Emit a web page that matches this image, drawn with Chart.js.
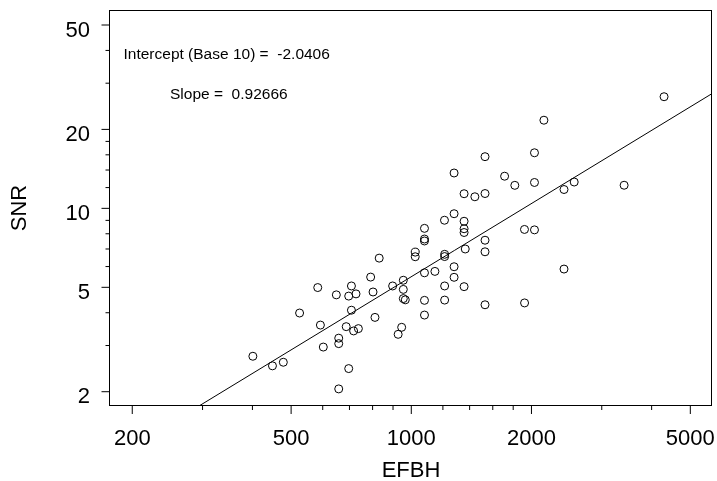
<!DOCTYPE html>
<html lang="en">
<head>
    <meta charset="UTF-8">
    <title>SNR vs EFBH</title>
    <style>
        body {
            margin: 0;
            background: white;
        }
        #chart {
            display: block;
        }
    </style>
</head>
<body>
    <canvas id="chart" width="717" height="481"></canvas>

    <script src="https://cdn.jsdelivr.net/npm/chart.js"></script>
    <script>
        // measurements
        const efbh = [
            401, 449, 478, 525, 583, 592, 602, 649, 658, 658,
            658, 687, 697, 697, 708, 708, 717, 727, 737, 791,
            802, 811, 831, 898, 927, 946, 955, 955, 955, 966,
            1023, 1023, 1079, 1079, 1079, 1079, 1079, 1079, 1146, 1211,
            1212, 1212, 1212, 1212, 1280, 1280, 1280, 1280, 1356, 1356,
            1356, 1356, 1356, 1365, 1443, 1530, 1530, 1530, 1530, 1530,
            1713, 1817, 1921, 1922, 2035, 2035, 2035, 2149, 2413, 2413,
            2559, 3413, 4297
        ];
        const snr = [
            2.73, 2.51, 2.59, 3.99, 4.99, 3.59, 2.96, 4.68, 3.20, 3.05,
            2.05, 3.54, 4.63, 2.45, 5.06, 4.09, 3.41, 4.72, 3.48, 5.47,
            4.80, 3.84, 6.46, 5.06, 3.31, 3.52, 5.32, 4.91, 4.53, 4.48,
            6.81, 6.54, 8.39, 7.64, 7.51, 5.68, 4.46, 3.92, 5.75, 9.01,
            6.68, 6.55, 5.06, 4.47, 13.64, 9.54, 5.99, 5.46, 11.37, 8.93,
            8.36, 8.09, 5.03, 7.00, 11.07, 15.74, 11.39, 7.56, 6.83, 4.29,
            13.26, 12.24, 8.31, 4.36, 16.29, 12.55, 8.28, 21.68, 11.80, 5.87,
            12.60, 12.25, 26.64
        ];

        // log10 fit
        const intercept = -2.0406;
        const slope = 0.92666;

        const xMajorTicks = [200, 500, 1000, 2000, 5000];
        const xMinorTicks = [300, 400, 600, 700, 800, 900, 1200, 1400, 1600, 1800, 3000, 4000];
        const yMajorTicks = [2, 5, 10, 20, 50];
        const yMinorTicks = [3, 4, 6, 7, 8, 9, 12, 14, 16, 18, 30, 40];

        const xRange = [175.9, 5666];
        const yRange = [1.772, 56.79];

        const FONT = '"Liberation Sans", Arial, Helvetica, sans-serif';

        const points = efbh.map((v, i) => ({ x: v, y: snr[i] }));
        const fitLine = xRange.map(v => ({ x: v, y: Math.pow(10, intercept + slope * Math.log10(v)) }));

        // box around the plot, outward tick marks and the fit text
        const frameAndTicks = {
            id: 'frameAndTicks',
            afterDraw(chart) {
                const { ctx, chartArea: a, scales: { x, y } } = chart;
                ctx.save();
                ctx.strokeStyle = '#000';
                ctx.lineWidth = 1;
                ctx.strokeRect(a.left - 0.5, a.top, a.right - a.left, a.bottom - a.top);

                ctx.beginPath();
                const tickX = (v, len) => {
                    const px = x.getPixelForValue(v);
                    ctx.moveTo(px, a.bottom);
                    ctx.lineTo(px, a.bottom + len);
                };
                const tickY = (v, len) => {
                    const py = y.getPixelForValue(v);
                    ctx.moveTo(a.left - 0.5, py);
                    ctx.lineTo(a.left - 0.5 - len, py);
                };
                xMajorTicks.forEach(v => tickX(v, 8.5));
                xMinorTicks.forEach(v => tickX(v, 4.5));
                yMajorTicks.forEach(v => tickY(v, 8));
                yMinorTicks.forEach(v => tickY(v, 4));
                ctx.stroke();

                ctx.fillStyle = '#000';
                ctx.font = '15.5px ' + FONT;
                ctx.textAlign = 'left';
                ctx.textBaseline = 'alphabetic';
                ctx.fillText('Intercept (Base 10) =  ' + intercept.toFixed(4), a.left + 13.5, a.top + 48.2);
                ctx.fillText('Slope =  ' + slope.toFixed(5), a.left + 60, a.top + 88.2);
                ctx.restore();
            }
        };

        const pickTicks = values => scale => {
            scale.ticks = values.map(v => ({ value: v }));
        };

        new Chart(document.getElementById('chart'), {
            type: 'scatter',
            data: {
                datasets: [
                    {
                        data: points,
                        pointRadius: 4,
                        pointBorderWidth: 1,
                        pointBorderColor: '#000',
                        pointBackgroundColor: 'rgba(0,0,0,0)'
                    },
                    {
                        type: 'line',
                        data: fitLine,
                        borderColor: '#000',
                        borderWidth: 1,
                        pointRadius: 0,
                        fill: false,
                        clip: 0
                    }
                ]
            },
            options: {
                responsive: false,
                animation: false,
                devicePixelRatio: 1,
                layout: { padding: { top: 10.5, right: 4, bottom: 0, left: 0 } },
                plugins: {
                    legend: { display: false },
                    tooltip: { enabled: false }
                },
                scales: {
                    x: {
                        type: 'logarithmic',
                        min: xRange[0],
                        max: xRange[1],
                        grid: { display: false, drawTicks: false },
                        border: { display: false },
                        afterBuildTicks: pickTicks(xMajorTicks.concat(xMinorTicks).sort((a, b) => a - b)),
                        afterFit: scale => {
                            scale.height = 75.5;
                            scale.paddingLeft = 0;
                            scale.paddingRight = 0;
                        },
                        ticks: {
                            autoSkip: false,
                            maxRotation: 0,
                            padding: 20,
                            color: '#000',
                            font: { family: FONT, size: 22 },
                            callback: v => xMajorTicks.includes(v) ? String(v) : ''
                        },
                        title: {
                            display: true,
                            text: 'EFBH',
                            color: '#000',
                            font: { family: FONT, size: 22 },
                            padding: { top: 0, bottom: -3 }
                        }
                    },
                    y: {
                        type: 'logarithmic',
                        min: yRange[0],
                        max: yRange[1],
                        grid: { display: false, drawTicks: false },
                        border: { display: false },
                        afterBuildTicks: pickTicks(yMajorTicks.concat(yMinorTicks).sort((a, b) => a - b)),
                        afterFit: scale => {
                            scale.width = 110;
                            scale.paddingTop = 0;
                            scale.paddingBottom = 0;
                        },
                        ticks: {
                            autoSkip: false,
                            padding: 20,
                            labelOffset: 5.5,
                            color: '#000',
                            font: { family: FONT, size: 22 },
                            callback: v => yMajorTicks.includes(v) ? String(v) : ''
                        },
                        title: {
                            display: true,
                            text: 'SNR',
                            color: '#000',
                            font: { family: FONT, size: 22 },
                            padding: { top: 6.5, bottom: 0 }
                        }
                    }
                }
            },
            plugins: [frameAndTicks]
        });
    </script>
</body>
</html>
